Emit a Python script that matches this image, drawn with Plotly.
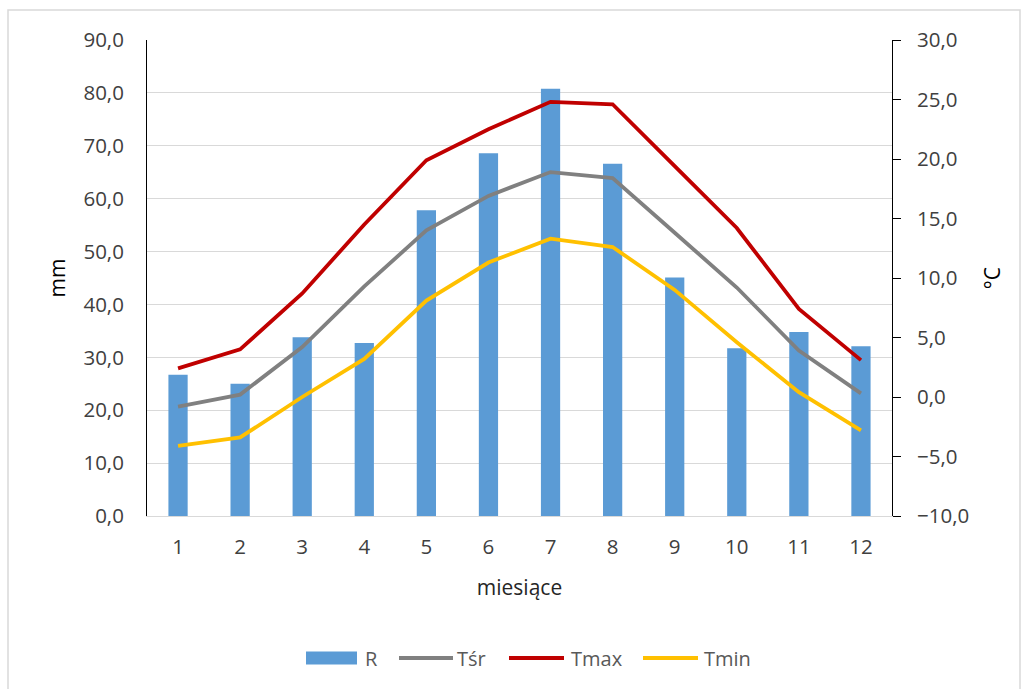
import plotly.graph_objects as go

# Monthly climate data
months = [1, 2, 3, 4, 5, 6, 7, 8, 9, 10, 11, 12]
precip_mm = [26.7, 25.0, 33.8, 32.7, 57.8, 68.6, 80.8, 66.6, 45.1, 31.7, 34.8, 32.1]
t_mean = [-0.8, 0.2, 4.2, 9.3, 14.0, 16.9, 18.9, 18.4, 13.8, 9.2, 3.9, 0.3]
t_max = [2.4, 4.0, 8.7, 14.5, 19.9, 22.5, 24.8, 24.6, 19.4, 14.2, 7.4, 3.1]
t_min = [-4.1, -3.4, 0.0, 3.2, 8.1, 11.3, 13.3, 12.6, 9.0, 4.6, 0.4, -2.8]

series_names = ["R", "Tśr", "Tmax", "Tmin"]
series_colors = ["#5B9BD5", "#808080", "#C00000", "#FFC000"]

FONT = "Open Sans"
TEXT = "#404040"
W, H = 1028, 689
L, R_EDGE, T, B = 147, 892, 40, 516


def px_x(x):
    return (x - L) / (R_EDGE - L)


def px_y(y):
    return (B - y) / (B - T)


fig = go.Figure()
fig.add_trace(go.Bar(x=months, y=precip_mm, name=series_names[0],
                     marker=dict(color=series_colors[0], line=dict(width=0)),
                     yaxis="y"))
for name, vals, col in zip(series_names[1:], [t_mean, t_max, t_min], series_colors[1:]):
    fig.add_trace(go.Scatter(x=months, y=vals, name=name, mode="lines",
                             line=dict(color=col, width=3.8), yaxis="y2"))

fig.update_layout(
    width=W, height=H,
    margin=dict(l=L, r=W - R_EDGE, t=T, b=H - B),
    paper_bgcolor="white", plot_bgcolor="white",
    separators=", ",
    showlegend=False,
    bargap=0.69,
    font=dict(family=FONT, size=20, color=TEXT),
    xaxis=dict(range=[0.5, 12.5], tickmode="array", tickvals=months,
               ticktext=[str(m) for m in months], showgrid=False,
               showline=True, linecolor="#D9D9D9", linewidth=1, ticks="",
               ticklabelstandoff=12, zeroline=False,
               tickfont=dict(size=20.5, color=TEXT),
               title=dict(text="miesiące", font=dict(size=21, color="#262626"), standoff=21)),
    yaxis=dict(range=[0, 90], dtick=10, tickformat=".1f", showgrid=True,
               gridcolor="#D9D9D9", gridwidth=1, zeroline=False,
               showline=True, linecolor="black", linewidth=1, ticks="",
               ticklabelstandoff=18, tickfont=dict(size=20.5, color=TEXT),
               title=dict(text="mm", font=dict(size=21, color="black"), standoff=12)),
    yaxis2=dict(range=[-10, 30], dtick=5, tickformat=".1f", overlaying="y",
                side="right", showgrid=False, zeroline=False,
                showline=True, linecolor="black", linewidth=1,
                ticks="outside", ticklen=8, tickcolor="black",
                ticklabelstandoff=12, tickfont=dict(size=20.5, color=TEXT),
                title=dict(text="°C", font=dict(size=21, color="black"), standoff=16)),
)

# Chart frame
fig.add_shape(type="rect", xref="paper", yref="paper",
              x0=px_x(8), x1=px_x(1020), y0=px_y(700), y1=px_y(10),
              line=dict(color="#D9D9D9", width=1.5), fillcolor="rgba(0,0,0,0)",
              layer="below")

# Legend row
leg_y = 658
swatches = [(306, 357), (399, 453), (509, 564), (643, 698)]
labels_x = [363, 455, 569, 702]
for i, (name, col) in enumerate(zip(series_names, series_colors)):
    x0, x1 = swatches[i]
    if i == 0:
        fig.add_shape(type="rect", xref="paper", yref="paper",
                      x0=px_x(x0), x1=px_x(x1), y0=px_y(leg_y + 6.5), y1=px_y(leg_y - 6.5),
                      line=dict(width=0), fillcolor=col)
    else:
        fig.add_shape(type="line", xref="paper", yref="paper",
                      x0=px_x(x0), x1=px_x(x1), y0=px_y(leg_y), y1=px_y(leg_y),
                      line=dict(color=col, width=4))
    fig.add_annotation(text=name, xref="paper", yref="paper",
                       x=px_x(labels_x[i]), y=px_y(leg_y), xanchor="left",
                       yanchor="middle", showarrow=False,
                       font=dict(size=20, color="#595959", family=FONT))

fig.write_html("out.html")
